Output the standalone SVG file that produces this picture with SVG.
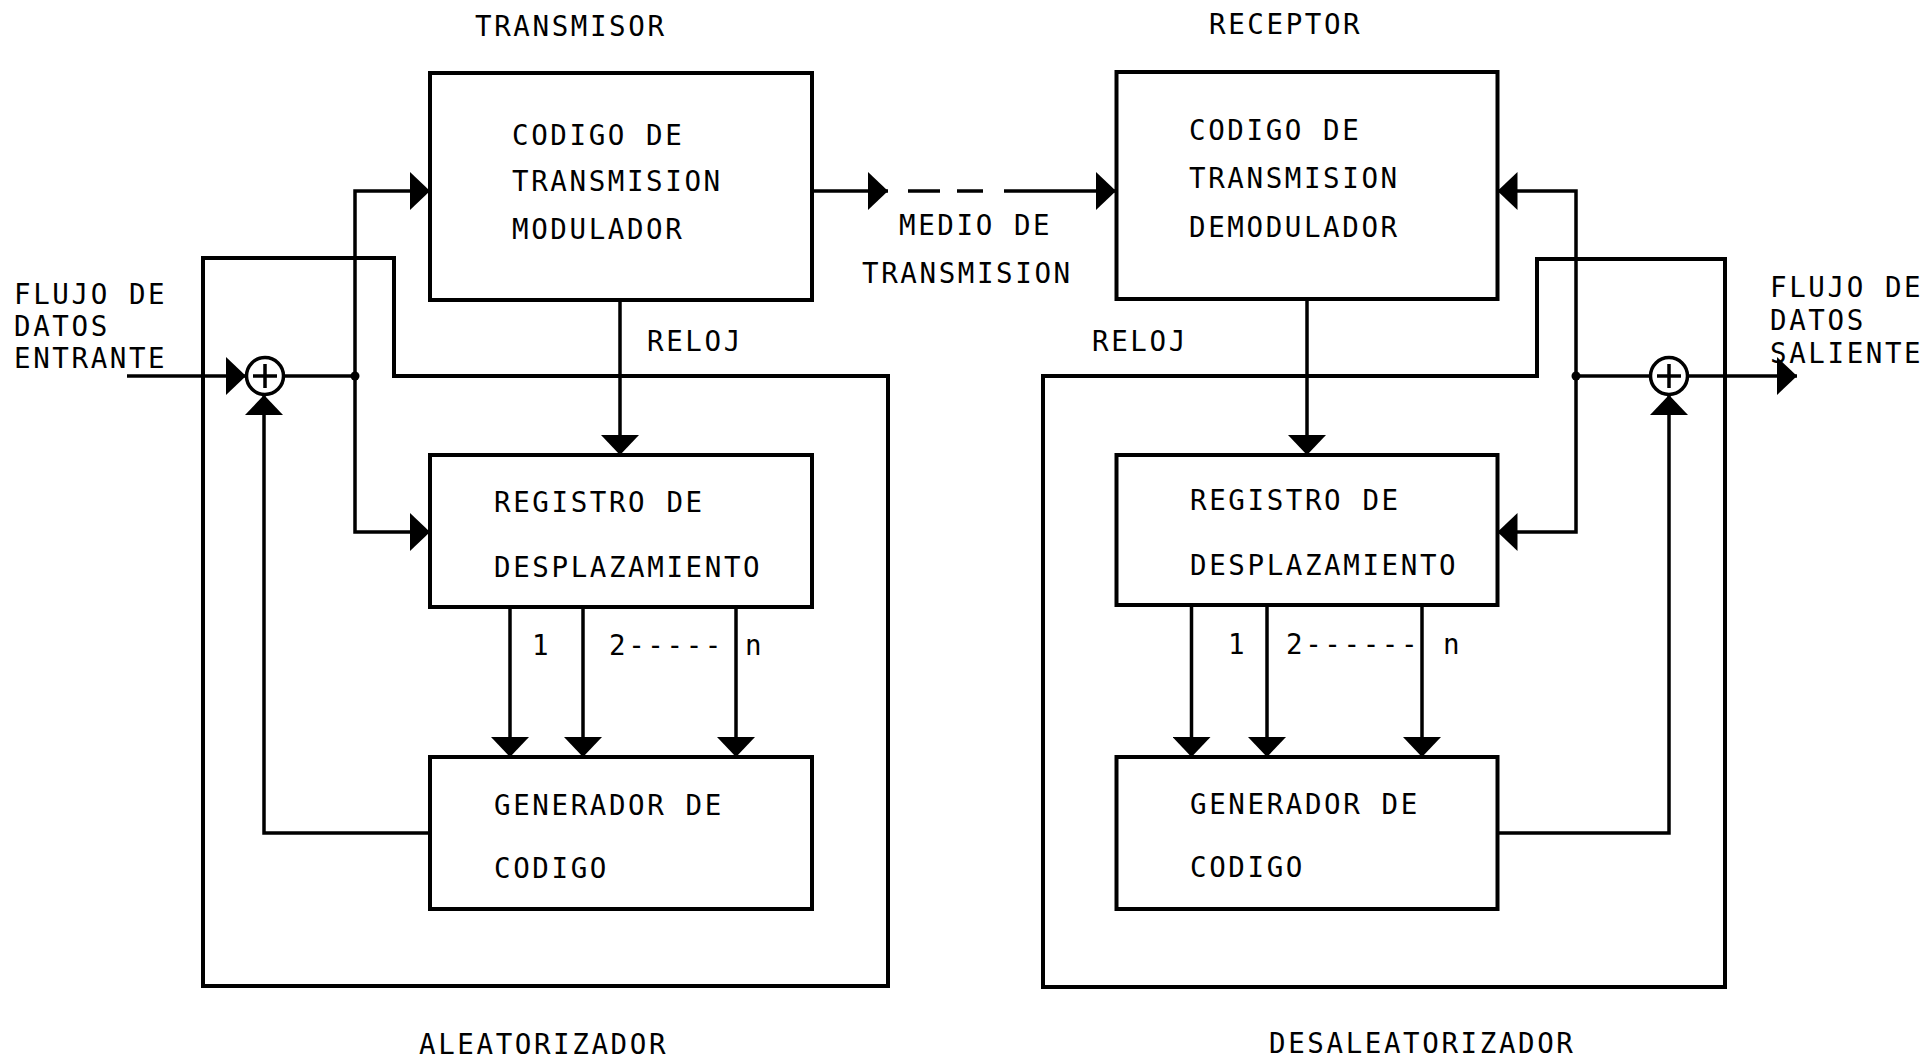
<svg xmlns="http://www.w3.org/2000/svg" width="1928" height="1057" viewBox="0 0 1928 1057">
  <style>
    text { font-family: "DejaVu Sans Mono", "Liberation Mono", monospace; font-size: 27.5px; letter-spacing: 2.6px; fill: #000; }
    .box { fill: none; stroke: #000; stroke-width: 4; }
    .frame { fill: none; stroke: #000; stroke-width: 4; stroke-linejoin: miter; }
    .wire { fill: none; stroke: #000; stroke-width: 3.5; }
    .xor { fill: #fff; stroke: #000; stroke-width: 3.5; }
    .dot { fill: #000; }
  </style>
  <defs>
    <marker id="ah" viewBox="0 0 20 38" markerWidth="20" markerHeight="38" refX="20" refY="19" orient="auto" markerUnits="userSpaceOnUse">
      <path d="M0,0 L20,19 L0,38 Z" fill="#000"/>
    </marker>
  </defs>

  <rect width="1928" height="1057" fill="#fff"/>

  <!-- headings -->
  <text x="475" y="36">TRANSMISOR</text>
  <text x="1209" y="34">RECEPTOR</text>
  <text x="419" y="1054">ALEATORIZADOR</text>
  <text x="1269" y="1053">DESALEATORIZADOR</text>

  <!-- scrambler / descrambler enclosures -->
  <g id="aleatorizador">
    <path class="frame" d="M203,258 H394 V376 H888 V986 H203 Z"/>
  </g>
  <g id="desaleatorizador">
    <path class="frame" d="M1537,259 H1725 V987 H1043 V376 H1537 Z"/>
  </g>

  <!-- connectors -->
  <g id="connectors">
    <!-- transmitter side -->
    <path class="wire" d="M127,376 H246" marker-end="url(#ah)"/>
    <path class="wire" d="M284,376 H355"/>
    <path class="wire" d="M355,376 V191 H430" marker-end="url(#ah)"/>
    <path class="wire" d="M355,376 V532 H430" marker-end="url(#ah)"/>
    <path class="wire" d="M620,300 V455" marker-end="url(#ah)"/>
    <path class="wire" d="M510,607 V757" marker-end="url(#ah)"/>
    <path class="wire" d="M583,607 V757" marker-end="url(#ah)"/>
    <path class="wire" d="M736,607 V757" marker-end="url(#ah)"/>
    <path class="wire" d="M430,833 H264 V395" marker-end="url(#ah)"/>
    <circle class="dot" cx="355" cy="376" r="4.5"/>

    <!-- transmission medium -->
    <path class="wire" d="M812,191 H888" marker-end="url(#ah)"/>
    <path class="wire" d="M908,191 H940 M957,191 H983"/>
    <path class="wire" d="M1004,191 H1116" marker-end="url(#ah)"/>

    <!-- receiver side -->
    <path class="wire" d="M1307,299 V455" marker-end="url(#ah)"/>
    <path class="wire" d="M1191.5,605 V757" marker-end="url(#ah)"/>
    <path class="wire" d="M1267,605 V757" marker-end="url(#ah)"/>
    <path class="wire" d="M1422,605 V757" marker-end="url(#ah)"/>
    <path class="wire" d="M1497.5,833 H1669 V395" marker-end="url(#ah)"/>
    <path class="wire" d="M1576,376 V191 H1497.5" marker-end="url(#ah)"/>
    <path class="wire" d="M1576,376 V532 H1497.5" marker-end="url(#ah)"/>
    <path class="wire" d="M1576,376 H1650"/>
    <path class="wire" d="M1688,376 H1797" marker-end="url(#ah)"/>
    <circle class="dot" cx="1576" cy="376" r="4.5"/>
  </g>

  <!-- modulo-2 adders -->
  <g id="xor-tx">
    <circle class="xor" cx="265" cy="376" r="18.5"/>
    <path class="wire" d="M265,364 V388 M253,376 H277"/>
  </g>
  <g id="xor-rx">
    <circle class="xor" cx="1669" cy="376" r="18.5"/>
    <path class="wire" d="M1669,364 V388 M1657,376 H1681"/>
  </g>

  <!-- transmitter blocks -->
  <g id="tx-modulador">
    <rect class="box" x="430" y="73" width="382" height="227"/>
    <text x="512" y="145">CODIGO DE</text>
    <text x="512" y="191">TRANSMISION</text>
    <text x="512" y="239">MODULADOR</text>
  </g>
  <g id="tx-registro">
    <rect class="box" x="430" y="455" width="382" height="152"/>
    <text x="494" y="512">REGISTRO DE</text>
    <text x="494" y="577">DESPLAZAMIENTO</text>
  </g>
  <g id="tx-generador">
    <rect class="box" x="430" y="757" width="382" height="152"/>
    <text x="494" y="815">GENERADOR DE</text>
    <text x="494" y="878">CODIGO</text>
  </g>

  <!-- receiver blocks -->
  <g id="rx-demodulador">
    <rect class="box" x="1116.5" y="72" width="381" height="227"/>
    <text x="1189" y="140">CODIGO DE</text>
    <text x="1189" y="188">TRANSMISION</text>
    <text x="1189" y="237">DEMODULADOR</text>
  </g>
  <g id="rx-registro">
    <rect class="box" x="1116.5" y="455" width="381" height="150"/>
    <text x="1190" y="510">REGISTRO DE</text>
    <text x="1190" y="575">DESPLAZAMIENTO</text>
  </g>
  <g id="rx-generador">
    <rect class="box" x="1116.5" y="757" width="381" height="152"/>
    <text x="1190" y="814">GENERADOR DE</text>
    <text x="1190" y="877">CODIGO</text>
  </g>

  <!-- labels -->
  <g id="labels">
    <text x="899" y="235">MEDIO DE</text>
    <text x="862" y="283">TRANSMISION</text>
    <text x="14" y="304">FLUJO DE</text>
    <text x="14" y="336">DATOS</text>
    <text x="14" y="368">ENTRANTE</text>
    <text x="1770" y="297">FLUJO DE</text>
    <text x="1770" y="330">DATOS</text>
    <text x="1770" y="363">SALIENTE</text>
    <text x="647" y="351">RELOJ</text>
    <text x="1092" y="351">RELOJ</text>
    <text x="532" y="655">1</text>
    <text x="609" y="655">2-----</text>
    <text x="745" y="655">n</text>
    <text x="1228" y="654">1</text>
    <text x="1286" y="654">2------</text>
    <text x="1443" y="654">n</text>
  </g>
</svg>
